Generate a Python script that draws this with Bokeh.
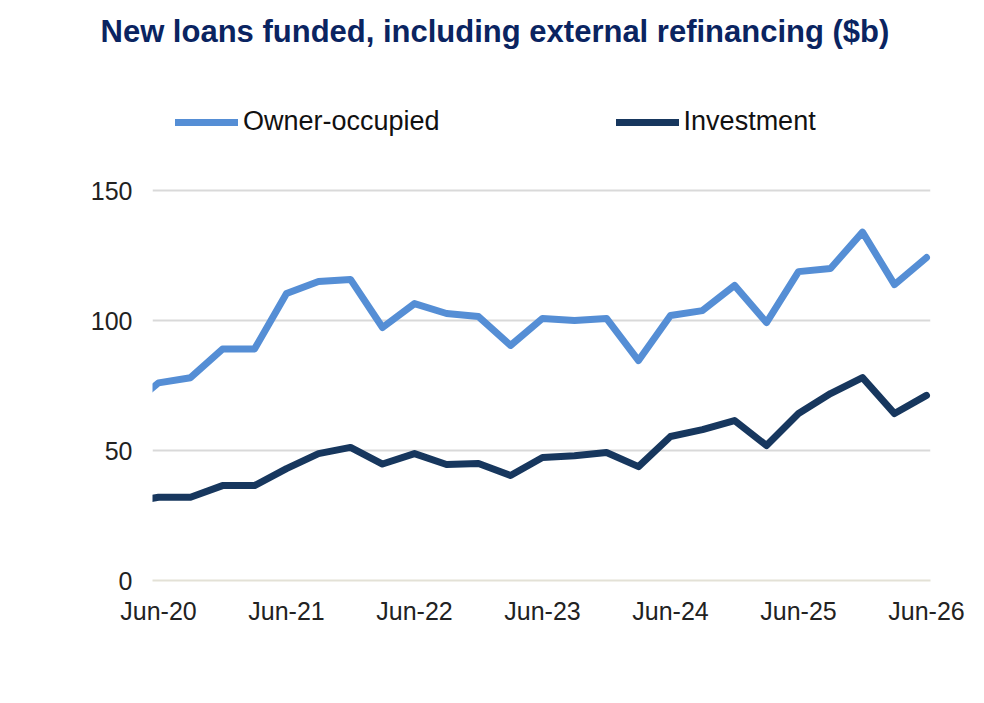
from bokeh.plotting import figure
from bokeh.models import Range1d, FixedTicker, Legend, Title
from bokeh.embed import file_html
from bokeh.resources import INLINE

# quarterly data, $b (first quarter sits just off the left edge)
quarters = ["Mar-20", "Jun-20", "Sep-20", "Dec-20", "Mar-21", "Jun-21", "Sep-21", "Dec-21",
            "Mar-22", "Jun-22", "Sep-22", "Dec-22", "Mar-23", "Jun-23", "Sep-23", "Dec-23",
            "Mar-24", "Jun-24", "Sep-24", "Dec-24", "Mar-25", "Jun-25", "Sep-25", "Dec-25",
            "Mar-26", "Jun-26"]
owner_occupied = [66, 76, 78, 89, 89, 110.4, 115, 115.8, 97.3, 106.5, 102.7, 101.5, 90.4,
                  100.8, 100, 100.8, 84.6, 101.9, 103.8, 113.5, 99.2, 118.8, 120, 134, 113.8, 124.2]
investment = [30, 32, 32, 36.5, 36.5, 43, 48.8, 51.2, 44.8, 48.8, 44.6, 45, 40.4,
              47.3, 48, 49.2, 43.8, 55.4, 58, 61.5, 51.9, 64.2, 71.9, 78, 64.2, 71.2]
tick_labels = ["Jun-20", "Jun-21", "Jun-22", "Jun-23", "Jun-24", "Jun-25", "Jun-26"]
y_ticks = [0, 50, 100, 150]

x = list(range(len(quarters)))
tick_pos = [quarters.index(t) for t in tick_labels]

FONT = "Liberation Sans"

p = figure(width=976, height=695, title=None,
           x_range=Range1d(0.8125, 25.125), y_range=Range1d(0, 200),
           output_backend="svg", toolbar_location=None, tools="",
           min_border_left=152, min_border_right=46,
           min_border_top=60, min_border_bottom=115)
p.outline_line_color = None
p.background_fill_color = "white"

r1 = p.line(x, owner_occupied, line_color="#558ED5", line_width=7,
            line_join="round", line_cap="round")
r2 = p.line(x, investment, line_color="#17375E", line_width=7,
            line_join="round", line_cap="round")

# grid and axes
p.xgrid.visible = False
p.ygrid.ticker = FixedTicker(ticks=y_ticks)
p.ygrid.grid_line_color = "#d9d9d9"
p.ygrid.grid_line_width = 2

p.yaxis.ticker = FixedTicker(ticks=y_ticks)
p.yaxis.axis_line_color = None
p.yaxis.major_tick_line_color = None
p.yaxis.minor_tick_line_color = None
p.yaxis.major_label_standoff = 14
p.yaxis.major_label_text_font = FONT
p.yaxis.major_label_text_font_size = "25px"
p.yaxis.major_label_text_color = "#222222"

p.xaxis.ticker = FixedTicker(ticks=tick_pos)
p.xaxis.major_label_overrides = {pos: lab for pos, lab in zip(tick_pos, tick_labels)}
p.xaxis.axis_line_color = "#e3e1d6"
p.xaxis.axis_line_width = 2
p.xaxis.major_tick_line_color = None
p.xaxis.minor_tick_line_color = None
p.xaxis.major_label_standoff = 10
p.xaxis.major_label_text_font = FONT
p.xaxis.major_label_text_font_size = "25px"
p.xaxis.major_label_text_color = "#222222"

legend = Legend(items=[("Owner-occupied", [r1]), ("Investment", [r2])],
                orientation="horizontal", location=(23, 443),
                glyph_width=63, glyph_height=30, label_height=30,
                label_standoff=5, spacing=176, padding=0, margin=0,
                border_line_color=None, background_fill_alpha=0,
                label_text_font=FONT, label_text_font_size="27px",
                label_text_color="#111111")
p.add_layout(legend)

p.add_layout(Title(text="New loans funded, including external refinancing ($b)",
                   align="left", offset=-52, standoff=23,
                   text_font=FONT, text_font_size="31px", text_font_style="bold",
                   text_color="#0a2461"), "above")

open("out.html", "w").write(file_html(p, INLINE))
